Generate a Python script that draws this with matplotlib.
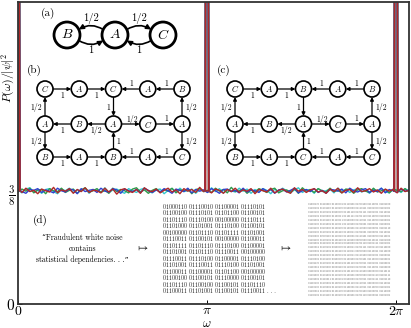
import numpy as np
import matplotlib
matplotlib.use("Agg")
import matplotlib.pyplot as plt
from matplotlib.patches import Circle, FancyArrowPatch

plt.rcParams["mathtext.fontset"] = "cm"
plt.rcParams["font.family"] = ["cmr10", "DejaVu Serif"]

# spectrum data
omega_ticks = [0, np.pi, 2 * np.pi]
omega_labels = [r"$0$", r"$\pi$", r"$2\pi$"]
p_ticks = [0, 3 / 8]
p_labels = [r"$0$", r"$\frac{3}{8}$"]
baseline = 3 / 8
peak_pos = [0, np.pi, 2 * np.pi]
peak_top = 3.0
# fluctuations around 3/8, in thousandths
cyan_dev = [2, -5, 4, 7, -3, 1, -6, 3, 5, -2, -7, 4, 0, 6, -4, 2, -1, 5, -6, 3,
            1, -3, 7, -5, 2, 4, -2, -6, 5, 0, -4, 3, 6, -1, -5, 2, 4, -7, 1, 5,
            -3, 6, -2, 0, 4, -6, 3, 1, -4, 7, -2, 5, -5, 2, 0, -3, 6, -1, 4, -6,
            3, -2, 5, 1, -7, 4, -3, 6, 0, -5, 2, 7, -4, 1, 3, -6, 5, -2, 0, 4,
            -5, 6, -1, 3, -4, 2, 5, -3, 1, -6, 4, 0, 6, -2, -5, 3, 1, -4, 5, -1]
green_dev = [-3, 4, -1, 6, -5, 2, 3, -7, 5, 0, -2, 6, -4, 1, 4, -6, 2, 7, -3, 0,
             5, -4, 1, -6, 6, -2, 3, 0, -5, 4, 7, -3, 2, -6, 1, 5, -4, 3, -1, 6,
             -5, 2, 0, 4, -7, 3, 5, -2, 1, -4, 6, -1, 3, -5, 8, -2, 0, 4, -6, 2,
             -3, 5, 1, -4, 3, 6, -5, 0, 2, -3, 4, -6, 7, -1, 2, -4, 5, 0, -3, 6,
             -2, 1, -5, 4, 3, -6, 2, 5, -1, -4, 6, -3, 0, 3, -5, 4, 1, -2, 5, -3]
blue_dev = [4, -2, -6, 3, 1, 5, -4, 2, -1, -5, 6, 0, -3, 4, 2, -7, 5, -2, 1, 3,
            -4, 6, -1, -3, 5, 2, -6, 4, 0, -2, 3, -5, 6, 1, -4, 2, -3, 5, 0, -6,
            4, 1, -2, 6, -5, 3, -1, 2, -4, 5, 0, -6, 3, 4, -2, 1, -5, 6, -3, 2,
            0, -4, 5, -1, 3, -6, 2, 4, -3, 1, 6, -5, 0, 3, -2, 5, -4, 1, -6, 3,
            2, -1, 4, -5, 6, 0, -3, 2, 5, -4, 1, -2, 6, -5, 3, 0, -4, 4, -1, 2]
red_dev = [3, -4, 6, -2, 1, -7, 4, 0, -3, 8, -5, 2, -1, 5, -6, 3, -2, 7, -4, 1,
           0, -5, 6, -3, 4, -8, 2, 5, -1, -4, 3, -6, 7, 0, -2, 4, -5, 1, 6, -3,
           2, -7, 5, -1, 3, -4, 8, -2, 0, -5, 4, 1, -6, 3, -2, 6, -4, 2, -1, 5,
           -7, 3, 0, -3, 6, -5, 1, 4, -2, -6, 7, -1, 3, -4, 2, 5, -3, 0, -6, 4,
           -2, 6, -5, 1, 3, -4, 7, -2, 0, 5, -3, 2, -6, 4, -1, 3, -5, 6, -2, 1]
series = [(cyan_dev, "#33c8d0"), (green_dev, "#2f9a4a"),
          (blue_dev, "#3040d0"), (red_dev, "#b02828")]

# diagram content
nodes_a = ["B", "A", "C"]
grid_b = [["C", "A", "C", "A", "B"],
          ["A", "B", "A", "C", "A"],
          ["B", "A", "B", "A", "C"]]
grid_c = [["C", "A", "B", "A", "B"],
          ["A", "B", "A", "C", "A"],
          ["B", "A", "C", "A", "C"]]
grid_edges = [
    (0, 0, 0, 1, "1", "below"), (0, 1, 0, 2, "1", "below"),
    (0, 3, 0, 2, "1", "above"), (0, 4, 0, 3, "1", "above"),
    (1, 0, 0, 0, "1/2", "left"), (0, 2, 1, 2, "1", "left"), (1, 4, 0, 4, "1/2", "right"),
    (1, 1, 1, 0, "1", "below"), (1, 2, 1, 1, "1/2", "below"),
    (1, 2, 1, 3, "1/2", "above"), (1, 3, 1, 4, "1", "above"),
    (1, 0, 2, 0, "1/2", "left"), (2, 2, 1, 2, "1", "right"), (1, 4, 2, 4, "1/2", "right"),
    (2, 0, 2, 1, "1", "below"), (2, 1, 2, 2, "1", "below"),
    (2, 3, 2, 2, "1", "above"), (2, 4, 2, 3, "1", "above"),
]
quote_lines = ["\u201cFraudulent white noise", "contains", "statistical dependencies. . .\u201d"]
sentence = "Fraudulent white noise contains statistical dependencies"

fig = plt.figure(figsize=(4.11, 3.28), dpi=100)
ax = fig.add_axes([18 / 411, 1 - 304 / 328, 391 / 411, 302 / 328])

for dev, col in series:
    w = np.linspace(0, 6.5, len(dev))
    ax.plot(w, baseline + 1.4 * np.array(dev) / 1000, color=col, lw=1.0)
for dev, col in series:
    for p in peak_pos:
        ax.plot([p - 0.032, p, p + 0.032], [baseline, peak_top, baseline], color=col, lw=1.3)
for p in peak_pos:
    ax.fill([p - 0.03, p, p + 0.03], [baseline, peak_top, baseline], color="#c9a5a5", lw=0)

ax.set_xlim(0, 6.5)
ax.set_ylim(0, 1.0)
ax.set_xticks(omega_ticks, omega_labels)
ax.set_yticks(p_ticks, p_labels)
ax.tick_params(direction="in", length=3, width=0.7, labelsize=10, pad=2)
ax.tick_params(axis="y", labelsize=11)
ax.tick_params(axis="x", pad=1)
for s in ax.spines.values():
    s.set_linewidth(1.3)
    s.set_color("#333333")
fig.text(207 / 411, 1 - 323.5 / 328, r"$\omega$", ha="center", va="center", fontsize=9)
fig.text(8 / 411, 1 - 78 / 328, r"$P(\omega)/|\psi|^2$", rotation=90,
         ha="center", va="center", fontsize=8.5)

# overlay in pixel coordinates for the diagrams
ov = fig.add_axes([0, 0, 1, 1])
ov.set_xlim(0, 411)
ov.set_ylim(328, 0)
ov.axis("off")
ov.patch.set_alpha(0)


def node(x, y, r, lab, fs, lw):
    ov.add_patch(Circle((x, y), r, fc="white", ec="black", lw=lw, zorder=3))
    ov.text(x, y, "$" + lab + "$", ha="center", va="center", fontsize=fs, zorder=4)


def arrow(p1, p2, lw, ms, conn="arc3"):
    ov.add_patch(FancyArrowPatch(p1, p2, arrowstyle="-|>", mutation_scale=ms, lw=lw,
                                 color="black", shrinkA=0, shrinkB=0,
                                 connectionstyle=conn, zorder=2))


# (a)
ov.text(48, 13, "(a)", ha="center", va="center", fontsize=8)
ra = 13
xa = [67, 115, 163]
ya = 35
for x, lab in zip(xa, nodes_a):
    node(x, ya, ra, lab, 10, 2.0)
ang = np.deg2rad(25)
for xl, xr in [(xa[0], xa[1]), (xa[1], xa[2])]:
    left_top = (xl + ra * np.cos(ang), ya - ra * np.sin(ang))
    right_top = (xr - ra * np.cos(ang), ya - ra * np.sin(ang))
    left_bot = (xl + ra * np.cos(ang), ya + ra * np.sin(ang))
    right_bot = (xr - ra * np.cos(ang), ya + ra * np.sin(ang))
    mid = (xl + xr) / 2
    if xl == xa[0]:
        arrow(right_top, left_top, 1.2, 7, "arc3,rad=0.3")
        arrow(left_bot, right_bot, 1.2, 7, "arc3,rad=0.3")
    else:
        arrow(left_top, right_top, 1.2, 7, "arc3,rad=-0.3")
        arrow(right_bot, left_bot, 1.2, 7, "arc3,rad=-0.3")
    ov.text(mid, 19, "1/2", ha="center", va="center", fontsize=7.5)
    ov.text(mid, 50, "1", ha="center", va="center", fontsize=7.5)


def grid(x0, lab, names):
    xs = [x0 + 34.25 * i for i in range(5)]
    ys = [89, 124, 157]
    r = 8
    ov.text(x0 - 11, 70, lab, ha="center", va="center", fontsize=8)
    for i, row in enumerate(names):
        for j, n in enumerate(row):
            node(xs[j], ys[i], r, n, 6, 1.2)
    for r1, c1, r2, c2, t, side in grid_edges:
        x1, y1, x2, y2 = xs[c1], ys[r1], xs[c2], ys[r2]
        d = np.hypot(x2 - x1, y2 - y1)
        ux, uy = (x2 - x1) / d, (y2 - y1) / d
        arrow((x1 + ux * r, y1 + uy * r), (x2 - ux * r, y2 - uy * r), 0.9, 5)
        mx, my = (x1 + x2) / 2, (y1 + y2) / 2
        if side == "below":
            ov.text(mx, my + 6.5, t, ha="center", va="center", fontsize=5.5)
        elif side == "above":
            ov.text(mx + 1, my - 5, t, ha="center", va="center", fontsize=5.5)
        elif side == "left":
            ov.text(mx - 3, my + 1, t, ha="right", va="center", fontsize=5.5)
        else:
            ov.text(mx + 3, my + 1, t, ha="left", va="center", fontsize=5.5)


grid(45, "(b)", grid_b)
grid(235, "(c)", grid_c)

# (d)
ov.text(40, 220, "(d)", ha="center", va="center", fontsize=8)
for k, line in enumerate(quote_lines):
    ov.text(82, 238 + 11 * k, line, ha="center", va="center", fontsize=5.5)
ov.text(143, 248, r"$\mapsto$", ha="center", va="center", fontsize=8)
ov.text(286, 248, r"$\mapsto$", ha="center", va="center", fontsize=8)
bytes_ = [format(ord(ch), "08b") for ch in sentence]
for k in range(len(bytes_) // 4):
    row = " ".join(bytes_[4 * k:4 * k + 4])
    if k == len(bytes_) // 4 - 1:
        row += " . . ."
    ov.text(163, 207 + 6.5 * k, row, ha="left", va="center", fontsize=4.2, color="#222222")
long_bits = [format(ord(ch), "08b") for ch in (sentence + " ") * 5]
for k in range(24):
    st = (7 * k) % (len(long_bits) - 7)
    row = " ".join(long_bits[st:st + 7])
    ov.text(308, 204 + 3.95 * k, row, ha="left", va="center", fontsize=2.0, color="#555555")

fig.savefig("out.png", dpi=100)
